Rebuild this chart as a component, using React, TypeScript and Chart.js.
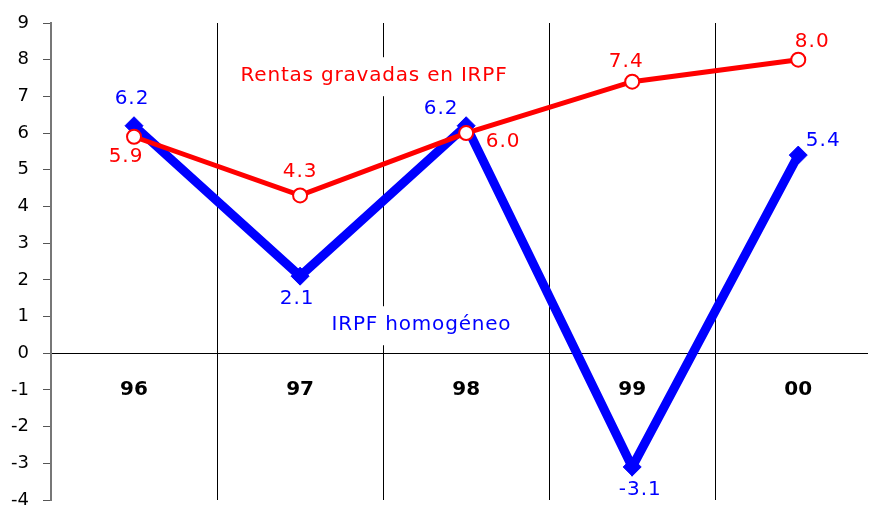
import React, { useEffect, useRef } from "react";
import { Chart, registerables } from "chart.js";

Chart.register(...registerables);

const categories = ["96", "97", "98", "99", "00"];
const rentasValues = [5.9, 4.3, 6.0, 7.4, 8.0];
const homogeneoValues = [6.2, 2.1, 6.2, -3.1, 5.4];
const yTicks = [-4, -3, -2, -1, 0, 1, 2, 3, 4, 5, 6, 7, 8, 9];

// label offsets (style) relative to each point
const rentasLabelOffsets = [
  [-8, 20],
  [0, -24],
  [37, 9],
  [-6, -20],
  [14, -18],
];
const homogeneoLabelOffsets = [
  [-2, -27],
  [-3, 23],
  [-25, -17],
  [8, 23],
  [25, -14],
];

const FONT = "'DejaVu Sans', Verdana, sans-serif";

const labelsPlugin = {
  id: "customLabels",
  afterDatasetsDraw(chart: any) {
    const ctx = chart.ctx;
    const x = chart.scales.x;
    const y = chart.scales.y;
    ctx.save();
    ctx.textAlign = "center";
    ctx.textBaseline = "middle";
    // category labels at y = -1
    ctx.font = `bold 20px ${FONT}`;
    ctx.fillStyle = "#000";
    categories.forEach((c, i) => {
      ctx.fillText(c, x.getPixelForValue(i), y.getPixelForValue(-1));
    });
    // series annotations with white background
    ctx.font = `20px ${FONT}`;
    (ctx as any).letterSpacing = "0.8px";
    const notes = [
      { text: "Rentas gravadas en IRPF", x: 1.445, y: 7.55, color: "#ff0000" },
      { text: "IRPF homogéneo", x: 1.731, y: 0.763, color: "#0000ff" },
    ];
    notes.forEach((n) => {
      const px = x.getPixelForValue(n.x);
      const py = y.getPixelForValue(n.y);
      const w = ctx.measureText(n.text).width;
      ctx.fillStyle = "#fff";
      ctx.fillRect(px - w / 2 - 3, py - 19, w + 6, 39);
      ctx.fillStyle = n.color;
      ctx.fillText(n.text, px, py);
    });
    // data labels
    ctx.font = `20px ${FONT}`;
    (ctx as any).letterSpacing = "1px";
    chart.data.datasets.forEach((ds: any, di: number) => {
      const meta = chart.getDatasetMeta(di);
      const offs = di === 0 ? rentasLabelOffsets : homogeneoLabelOffsets;
      ctx.fillStyle = ds.borderColor;
      meta.data.forEach((pt: any, i: number) => {
        const v = ds.data[i].y;
        ctx.fillText(v.toFixed(1), pt.x + offs[i][0], pt.y + offs[i][1]);
      });
    });
    ctx.restore();
  },
};

export default function App() {
  const ref = useRef<HTMLCanvasElement>(null);
  useEffect(() => {
    if (!ref.current) return;
    const chart = new Chart(ref.current, {
      type: "line",
      data: {
        datasets: [
          {
            label: "Rentas gravadas en IRPF",
            data: rentasValues.map((v, i) => ({ x: i, y: v })),
            borderColor: "#ff0000",
            backgroundColor: "#ffffff",
            borderWidth: 5,
            pointStyle: "circle",
            pointRadius: 7,
            pointBorderWidth: 2,
            pointBackgroundColor: "#ffffff",
            pointBorderColor: "#ff0000",
            tension: 0,
          },
          {
            label: "IRPF homogéneo",
            data: homogeneoValues.map((v, i) => ({ x: i, y: v })),
            borderColor: "#0000ff",
            backgroundColor: "#0000ff",
            borderWidth: 9,
            pointStyle: "rectRot",
            pointRadius: 9,
            pointBorderWidth: 1,
            pointBackgroundColor: "#0000ff",
            pointBorderColor: "#0000ff",
            tension: 0,
          },
        ],
      },
      options: {
        animation: false,
        responsive: false,
        maintainAspectRatio: false,
        layout: { autoPadding: false, padding: { top: 23, bottom: 5, left: 0, right: 2 } },
        plugins: { legend: { display: false }, tooltip: { enabled: false } },
        scales: {
          x: {
            type: "linear",
            min: -0.5,
            max: 4.42,
            afterBuildTicks: (s: any) => {
              s.ticks = [0.5, 1.5, 2.5, 3.5].map((v) => ({ value: v }));
            },
            afterFit: (s: any) => {
              s.height = 0;
              s.paddingLeft = 0;
              s.paddingRight = 0;
            },
            ticks: { display: false },
            grid: { color: "#000", lineWidth: 1, drawTicks: false },
            border: { display: false },
          },
          y: {
            min: -4,
            max: 9,
            afterBuildTicks: (s: any) => {
              s.ticks = yTicks.map((v) => ({ value: v }));
            },
            afterFit: (s: any) => {
              s.width = 51;
              s.paddingTop = 0;
              s.paddingBottom = 0;
            },
            ticks: {
              color: "#000",
              font: { family: FONT, size: 18 },
              padding: 14,
              callback: (v: any) => String(v),
            },
            grid: {
              color: (c: any) => (c.tick && c.tick.value === 0 ? "#000" : "rgba(0,0,0,0)"),
              tickColor: "#555",
              tickLength: 8,
              lineWidth: 1,
            },
            border: { color: "#777", width: 2 },
          },
        },
      },
      plugins: [labelsPlugin],
    });
    return () => chart.destroy();
  }, []);
  return (
    <div style={{ position: "absolute", left: 0, top: 0, width: 870, height: 505, background: "#fff" }}>
      <canvas ref={ref} width={870} height={505} style={{ display: "block" }} />
    </div>
  );
}
